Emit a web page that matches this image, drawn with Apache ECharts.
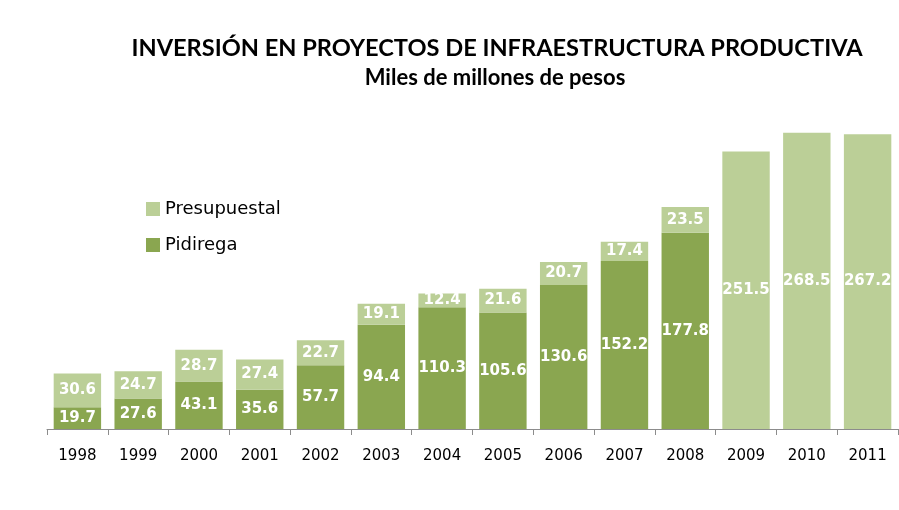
<!DOCTYPE html>
<html lang="es">
<head>
    <meta charset="UTF-8">
    <title>Inversión en proyectos de infraestructura productiva</title>
    <style>
        html, body { margin: 0; padding: 0; background: #fff; }
        #chart { width: 899px; height: 510px; }
    </style>
</head>
<body>
<div id="chart"></div>
<script src="https://cdn.jsdelivr.net/npm/echarts@6/dist/echarts.min.js"></script>
<script>
    // datos
    var years = ['1998','1999','2000','2001','2002','2003','2004','2005','2006','2007','2008','2009','2010','2011'];
    var pidiregas = [19.7, 27.6, 43.1, 35.6, 57.7, 94.4, 110.3, 105.6, 130.6, 152.2, 177.8, null, null, null];
    var presupuestal = [30.6, 24.7, 28.7, 27.4, 22.7, 19.1, 12.4, 21.6, 20.7, 17.4, 23.5, 251.5, 268.5, 267.2];

    var darkGreen = '#8AA650';
    var lightGreen = '#BBCF97';

    var myChart = echarts.init(document.getElementById('chart'));

    var labelStyle = {
        show: true,
        position: 'inside',
        color: '#fff',
        fontFamily: 'DejaVu Sans',
        fontWeight: 'bold',
        fontSize: 15
    };

    var option = {
        animation: false,
        title: [{
            text: 'INVERSIÓN EN PROYECTOS DE INFRAESTRUCTURA PRODUCTIVA',
            left: 492, top: 31, textAlign: 'center',
            textStyle: { fontFamily: 'Lato', fontWeight: 'bold', fontSize: 23.6, color: '#000' }
        }, {
            text: 'Miles de millones de pesos',
            left: 490, top: 62, textAlign: 'center',
            textStyle: { fontFamily: 'Lato', fontWeight: 'bold', fontSize: 22, color: '#000' }
        }],
        legend: {
            orient: 'vertical',
            left: 141, top: 195,
            itemWidth: 14, itemHeight: 14,
            itemGap: 18,
            icon: 'rect',
            data: ['Presupuestal', 'Pidirega'],
            textStyle: { fontFamily: 'DejaVu Sans', fontSize: 18, color: '#000' }
        },
        grid: { left: 47, right: 1, top: 98, bottom: 81, containLabel: false },
        xAxis: {
            type: 'category',
            data: years,
            axisLine: { lineStyle: { color: '#8c8c8c', width: 1 } },
            axisTick: { show: true, length: 6, lineStyle: { color: '#8c8c8c' } },
            axisLabel: { color: '#000', fontFamily: 'DejaVu Sans', fontSize: 15, margin: 20 }
        },
        yAxis: {
            type: 'value',
            min: 0, max: 300,
            show: false,
            splitLine: { show: false }
        },
        series: [{
            name: 'Pidirega',
            type: 'bar',
            stack: 'total',
            data: pidiregas,
            barCategoryGap: '22%',
            itemStyle: { color: darkGreen },
            label: labelStyle
        }, {
            name: 'Presupuestal',
            type: 'bar',
            stack: 'total',
            data: presupuestal,
            barCategoryGap: '22%',
            itemStyle: { color: lightGreen },
            label: labelStyle
        }]
    };

    myChart.setOption(option);
</script>
</body>
</html>
